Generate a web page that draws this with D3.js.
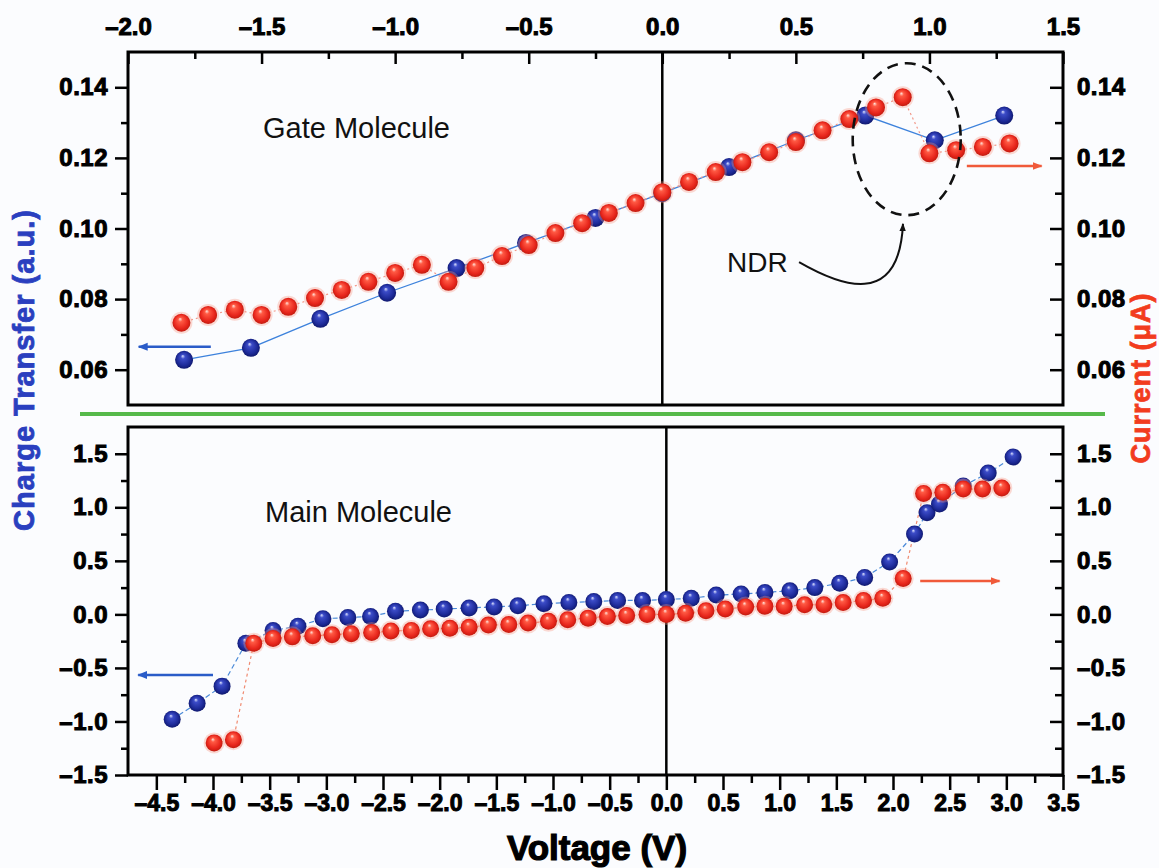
<!DOCTYPE html>
<html>
<head>
<meta charset="utf-8">
<script src="https://cdn.jsdelivr.net/npm/d3@7"></script>
<style>
  body { margin: 0; background: #fff; }
  svg { display: block; font-family: "Liberation Sans", Arial, sans-serif; }
  .tick text { font-weight: bold; fill: #000; stroke: #000; stroke-width: 1px; }
  .tick line { stroke: #000; stroke-width: 2.5px; }
</style>
</head>
<body>
<svg id="chart"></svg>
<script>
// ---- gate molecule (top panel) ----
var gateBlueV = [-1.79, -1.54, -1.28, -1.03, -0.77, -0.51, -0.25, 0.0, 0.25, 0.50, 0.76, 1.02, 1.28];
var gateBlueQ = [0.0628, 0.0662, 0.0744, 0.0818, 0.0888, 0.0959, 0.1030, 0.1100, 0.1174, 0.1250, 0.1320, 0.1250, 0.1320];

var gateRedV = [-1.8, -1.7, -1.6, -1.5, -1.4, -1.3, -1.2, -1.1, -1.0, -0.9, -0.8, -0.7, -0.6, -0.5, -0.4, -0.3,
                -0.2, -0.1, 0.0, 0.1, 0.2, 0.3, 0.4, 0.5, 0.6, 0.7, 0.8, 0.9, 1.0, 1.1, 1.2, 1.3];
var gateRedI = [0.0733, 0.0755, 0.0770, 0.0755, 0.0778, 0.0803, 0.0826, 0.0849, 0.0874, 0.0897, 0.0849, 0.0888,
                0.0922, 0.0953, 0.0987, 0.1015, 0.1044, 0.1072, 0.1103, 0.1132, 0.1160, 0.1188, 0.1216, 0.1245,
                0.1278, 0.1310, 0.1343, 0.1372, 0.1213, 0.1222, 0.1231, 0.1241];

var gateXTicks = [-2.0, -1.5, -1.0, -0.5, 0.0, 0.5, 1.0, 1.5];
var gateXMinor = [-1.75, -1.25, -0.75, -0.25, 0.25, 0.75, 1.25];
var gateYTicks = [0.06, 0.08, 0.10, 0.12, 0.14];
var gateYMinor = [0.07, 0.09, 0.11, 0.13];

// ---- main molecule (bottom panel) ----
var mainBlueV = [-4.36, -4.14, -3.92, -3.71, -3.47, -3.25, -3.03, -2.81, -2.61, -2.39, -2.17, -1.96,
                 -1.74, -1.52, -1.31, -1.08, -0.86, -0.64, -0.43, -0.21, 0.0, 0.22, 0.44, 0.66,
                 0.87, 1.09, 1.31, 1.53, 1.75, 1.97, 2.19, 2.30, 2.41, 2.62, 2.84, 3.06];
var mainBlueQ = [-0.98, -0.83, -0.67, -0.27, -0.15, -0.11, -0.04, -0.03, -0.02, 0.03, 0.04, 0.05,
                 0.06, 0.07, 0.08, 0.10, 0.11, 0.12, 0.13, 0.13, 0.14, 0.15, 0.18, 0.19,
                 0.205, 0.22, 0.25, 0.29, 0.345, 0.49, 0.75, 0.95, 1.03, 1.20, 1.32, 1.47];

var mainRedV = [-3.99, -3.82, -3.64, -3.47, -3.30, -3.12, -2.95, -2.78, -2.60, -2.43, -2.25, -2.08,
                -1.91, -1.74, -1.57, -1.39, -1.22, -1.04, -0.87, -0.69, -0.52, -0.35, -0.17, 0.0,
                0.17, 0.35, 0.52, 0.70, 0.87, 1.04, 1.22, 1.39, 1.56, 1.74, 1.91, 2.09,
                2.27, 2.44, 2.62, 2.79, 2.96];
var mainRedI = [-1.20, -1.17, -0.27, -0.225, -0.21, -0.20, -0.19, -0.18, -0.17, -0.155, -0.15, -0.135,
                -0.13, -0.12, -0.10, -0.095, -0.08, -0.065, -0.05, -0.035, -0.02, -0.01, 0.0, 0.0,
                0.01, 0.035, 0.05, 0.07, 0.075, 0.075, 0.09, 0.09, 0.11, 0.13, 0.15, 0.335,
                1.13, 1.14, 1.17, 1.17, 1.18];

var mainXTicks = [-4.5, -4.0, -3.5, -3.0, -2.5, -2.0, -1.5, -1.0, -0.5, 0.0, 0.5, 1.0, 1.5, 2.0, 2.5, 3.0, 3.5];
var mainXMinor = [-4.25, -3.75, -3.25, -2.75, -2.25, -1.75, -1.25, -0.75, -0.25, 0.25, 0.75, 1.25, 1.75, 2.25, 2.75, 3.25];
var mainYTicks = [-1.5, -1.0, -0.5, 0.0, 0.5, 1.0, 1.5];
var mainYMinor = [-1.25, -0.75, -0.25, 0.25, 0.75, 1.25];

// arrows pointing to the axis each series belongs to (data units)
var gateArrows = [
  { color: "#2a5cc8", from: [-1.69, 0.0665], to: [-1.96, 0.0665] },
  { color: "#f05a3a", from: [1.14, 0.1177], to: [1.42, 0.1177] }
];
var mainArrows = [
  { color: "#2a5cc8", from: [-4.0, -0.566], to: [-4.66, -0.566] },
  { color: "#f05a3a", from: [2.24, 0.312], to: [2.94, 0.312] }
];

var width = 1159, height = 868;
var left = 128, right = 1063;
var blue = "#2a3fbf", red = "#f23c1e";

var svg = d3.select("#chart").attr("width", width).attr("height", height);
svg.append("rect").attr("width", width).attr("height", height).attr("fill", "#fbfcfe");

var defs = svg.append("defs");
sphereGradient("ballBlue", ["#dfe4ff", "#3c4cc8", "#1d2a98", "#0c1463"]);
sphereGradient("ballRed", ["#ffe6de", "#ff5a44", "#e8261c", "#b8180c"]);
arrowMarker("headBlue", "#2a5cc8");
arrowMarker("headRed", "#f05a3a");
arrowMarker("headBlack", "#111");

function sphereGradient(id, stops) {
  var g = defs.append("radialGradient").attr("id", id)
    .attr("cx", "50%").attr("cy", "50%").attr("r", "55%")
    .attr("fx", "42%").attr("fy", "28%");
  g.append("stop").attr("offset", "0%").attr("stop-color", stops[0]);
  g.append("stop").attr("offset", "22%").attr("stop-color", stops[1]);
  g.append("stop").attr("offset", "70%").attr("stop-color", stops[2]);
  g.append("stop").attr("offset", "100%").attr("stop-color", stops[3]);
}

function arrowMarker(id, color) {
  defs.append("marker").attr("id", id)
    .attr("viewBox", "0 0 10 10").attr("refX", 9).attr("refY", 5)
    .attr("markerWidth", 4).attr("markerHeight", 4).attr("orient", "auto")
    .append("path").attr("d", "M0,1 L10,5 L0,9 Z").attr("fill", color);
}

var dashFmt = function(f) {
  return function(d) { return d3.format(f)(d).replace("\u2212", "\u2013"); };
};

var xTop = d3.scaleLinear().domain([-2.0, 1.5]).range([left, right]);
var yTop = d3.scaleLinear().domain([0.05, 0.15]).range([405, 52]);
var xBot = d3.scaleLinear().domain([-4.75, 3.5]).range([left, right]);
var yBot = d3.scaleLinear().domain([-1.5, 1.75]).range([775, 427]);

function axisGroup(axis, tx, ty) {
  var g = svg.append("g")
    .attr("transform", "translate(" + tx + "," + ty + ")")
    .call(axis);
  g.select(".domain").remove();
  return g;
}

// ---------- top panel axes ----------
axisGroup(d3.axisTop(xTop).tickValues(gateXTicks).tickFormat(dashFmt(".1f")).tickSize(-12).tickPadding(17), 0, 52)
  .selectAll("text").style("font-size", "24px");
axisGroup(d3.axisTop(xTop).tickValues(gateXMinor).tickFormat("").tickSize(-7), 0, 52);
axisGroup(d3.axisLeft(yTop).tickValues(gateYTicks).tickFormat(d3.format(".2f")).tickSize(13).tickPadding(7), left, 0)
  .selectAll("text").style("font-size", "24px").style("letter-spacing", "0.5px");
axisGroup(d3.axisLeft(yTop).tickValues(gateYMinor).tickFormat("").tickSize(7), left, 0);
axisGroup(d3.axisRight(yTop).tickValues(gateYTicks).tickFormat(d3.format(".2f")).tickSize(-13).tickPadding(14), right, 0)
  .selectAll("text").style("font-size", "24px").style("letter-spacing", "0.5px");
axisGroup(d3.axisRight(yTop).tickValues(gateYMinor).tickFormat("").tickSize(-8), right, 0);

// ---------- bottom panel axes ----------
axisGroup(d3.axisBottom(xBot).tickValues(mainXTicks).tickFormat(dashFmt(".1f")).tickSize(15).tickPadding(5), 0, 775)
  .selectAll("text").style("font-size", "23px");
axisGroup(d3.axisBottom(xBot).tickValues(mainXMinor).tickFormat("").tickSize(8), 0, 775);
axisGroup(d3.axisLeft(yBot).tickValues(mainYTicks).tickFormat(dashFmt(".1f")).tickSize(13).tickPadding(7), left, 0)
  .selectAll("text").style("font-size", "24px").style("letter-spacing", "0.5px");
axisGroup(d3.axisLeft(yBot).tickValues(mainYMinor).tickFormat("").tickSize(7), left, 0);
axisGroup(d3.axisRight(yBot).tickValues(mainYTicks).tickFormat(dashFmt(".1f")).tickSize(-13).tickPadding(14), right, 0)
  .selectAll("text").style("font-size", "24px").style("letter-spacing", "0.5px");
axisGroup(d3.axisRight(yBot).tickValues(mainYMinor).tickFormat("").tickSize(-8), right, 0);

// frames + zero lines
[[yTop, xTop], [yBot, xBot]].forEach(function(p) {
  var y = p[0], x = p[1];
  svg.append("rect")
    .attr("x", left).attr("y", y.range()[1])
    .attr("width", right - left).attr("height", y.range()[0] - y.range()[1])
    .attr("fill", "none").attr("stroke", "#000").attr("stroke-width", 3);
  svg.append("line")
    .attr("x1", x(0)).attr("x2", x(0))
    .attr("y1", y.range()[1]).attr("y2", y.range()[0])
    .attr("stroke", "#000").attr("stroke-width", 2.5);
});

// green separator
svg.append("line")
  .attr("x1", 80).attr("x2", 1105).attr("y1", 414).attr("y2", 414)
  .attr("stroke", "#56b94a").attr("stroke-width", 4);

function drawSeries(xs, ys, vs, qs, opts) {
  var pts = vs.map(function(v, i) { return [v, qs[i]]; });
  var line = d3.line().x(function(d) { return xs(d[0]); }).y(function(d) { return ys(d[1]); });
  svg.append("path")
    .datum(pts)
    .attr("d", line)
    .attr("fill", "none")
    .attr("stroke", opts.lineColor)
    .attr("stroke-width", opts.lineWidth)
    .attr("stroke-dasharray", opts.dash || null);
  return pts;
}

function drawBalls(xs, ys, pts, fill, r, halo) {
  var g = svg.append("g");
  if (halo) {
    g.selectAll("circle.halo")
      .data(pts)
      .enter()
      .append("circle")
        .attr("class", "halo")
        .attr("cx", function(d) { return xs(d[0]); })
        .attr("cy", function(d) { return ys(d[1]); })
        .attr("r", r + 2)
        .attr("fill", halo);
  }
  g.selectAll("circle.ball")
    .data(pts)
    .enter()
    .append("circle")
      .attr("class", "ball")
      .attr("cx", function(d) { return xs(d[0]); })
      .attr("cy", function(d) { return ys(d[1]); })
      .attr("r", r)
      .attr("fill", "url(#" + fill + ")");
}

// top panel data
var gb = drawSeries(xTop, yTop, gateBlueV, gateBlueQ, { lineColor: "#3d82dc", lineWidth: 1.3 });
var gr = drawSeries(xTop, yTop, gateRedV, gateRedI, { lineColor: "#f2998a", lineWidth: 1.2, dash: "2,3" });
drawBalls(xTop, yTop, gb, "ballBlue", 9);
drawBalls(xTop, yTop, gr, "ballRed", 9, "rgba(250,150,130,0.35)");

// bottom panel data
var mb = drawSeries(xBot, yBot, mainBlueV, mainBlueQ, { lineColor: "#4a8ad8", lineWidth: 1.2, dash: "5,3" });
var mr = drawSeries(xBot, yBot, mainRedV, mainRedI, { lineColor: "#f08a70", lineWidth: 1.2, dash: "3,3" });
drawBalls(xBot, yBot, mb, "ballBlue", 8.5);
drawBalls(xBot, yBot, mr, "ballRed", 8.5, "rgba(250,150,130,0.35)");

// series arrows
function drawArrows(xs, ys, list) {
  list.forEach(function(a) {
    svg.append("line")
      .attr("x1", xs(a.from[0])).attr("y1", ys(a.from[1]))
      .attr("x2", xs(a.to[0])).attr("y2", ys(a.to[1]))
      .attr("stroke", a.color).attr("stroke-width", 2.5)
      .attr("marker-end", "url(#" + (a.color === "#2a5cc8" ? "headBlue" : "headRed") + ")");
  });
}
drawArrows(xTop, yTop, gateArrows);
drawArrows(xBot, yBot, mainArrows);

// NDR ellipse and pointer
svg.append("ellipse")
  .attr("cx", xTop(0.915)).attr("cy", yTop(0.1253))
  .attr("rx", 54).attr("ry", 76)
  .attr("fill", "none").attr("stroke", "#111").attr("stroke-width", 2.6)
  .attr("stroke-dasharray", "11,7");

var s = [xTop(0.512), yTop(0.0905)], e = [xTop(0.901), yTop(0.1013)];
svg.append("path")
  .attr("d", "M" + s[0] + "," + s[1] +
    " C" + (s[0] + 40) + "," + (s[1] + 23) + " " + (e[0] - 4) + "," + (e[1] + 86) + " " + e[0] + "," + e[1])
  .attr("fill", "none").attr("stroke", "#111").attr("stroke-width", 2)
  .attr("marker-end", "url(#headBlack)");

// labels
svg.append("text").attr("x", 263).attr("y", 138)
  .style("font-size", "29px").attr("fill", "#111").text("Gate Molecule");
svg.append("text").attr("x", 265).attr("y", 522)
  .style("font-size", "29px").attr("fill", "#111").text("Main Molecule");
svg.append("text").attr("x", 727).attr("y", 272)
  .style("font-size", "28px").attr("fill", "#111").text("NDR");

svg.append("text")
  .attr("x", 597).attr("y", 860)
  .attr("text-anchor", "middle")
  .style("font-size", "35px").style("font-weight", "bold")
  .attr("stroke", "#000").attr("stroke-width", 1.2)
  .text("Voltage (V)");

svg.append("text")
  .attr("transform", "translate(24,370) rotate(-90)")
  .attr("text-anchor", "middle").attr("dy", "0.35em")
  .style("font-size", "29px").style("font-weight", "bold").style("letter-spacing", "1px")
  .attr("fill", blue).attr("stroke", blue).attr("stroke-width", 0.8)
  .text("Charge Transfer (a.u.)");

svg.append("text")
  .attr("transform", "translate(1141,378) rotate(-90)")
  .attr("text-anchor", "middle").attr("dy", "0.35em")
  .style("font-size", "27px").style("font-weight", "bold").style("letter-spacing", "1px")
  .attr("fill", red).attr("stroke", red).attr("stroke-width", 0.8)
  .text("Current (\u03bcA)");
</script>
</body>
</html>
